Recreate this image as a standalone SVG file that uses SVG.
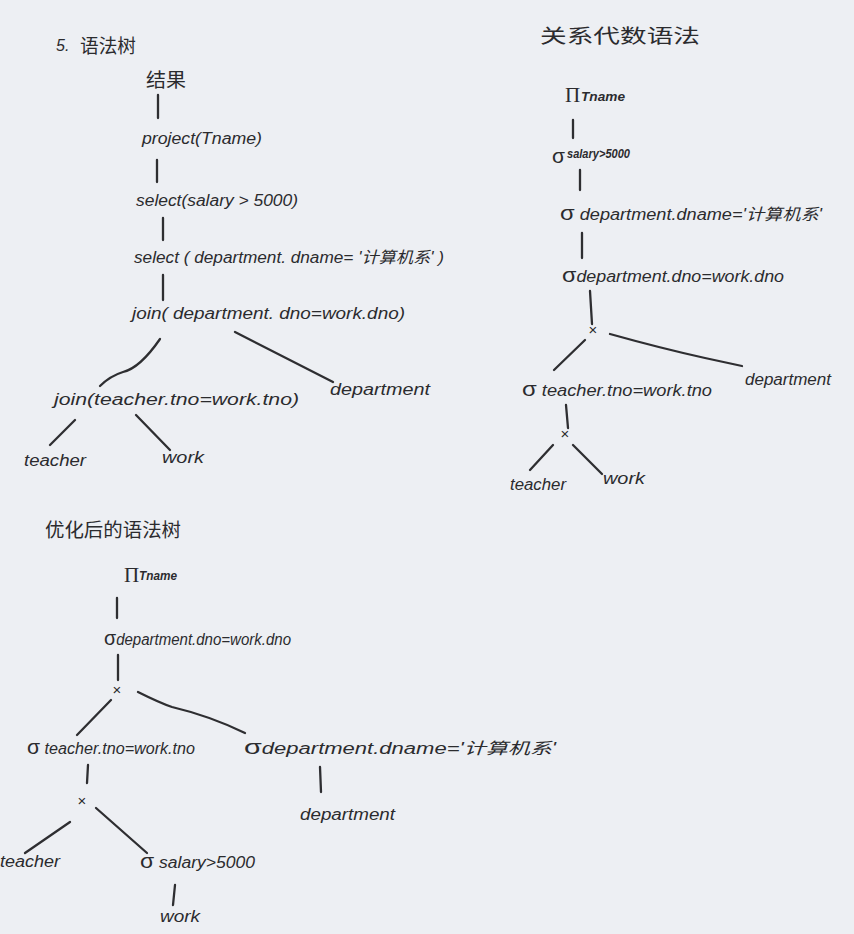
<svg xmlns="http://www.w3.org/2000/svg" width="854" height="934" viewBox="0 0 854 934">
<style>
.t{font-family:"Liberation Sans","Noto Sans CJK SC",sans-serif;font-style:italic;font-size:16px;fill:#2b2b2e}
.h{font-family:"Noto Sans CJK SC",sans-serif;font-size:19px;fill:#2b2b2e}
.s{font-family:"Liberation Sans","Noto Sans CJK SC",sans-serif;font-style:italic;font-weight:bold;font-size:12px;fill:#2b2b2e}
.g{font-family:"Liberation Serif",serif;font-size:21px;fill:#2b2b2e}
.sg{font-family:"Liberation Sans",sans-serif;font-size:21px;fill:#2b2b2e}
.x{font-family:"Liberation Sans",sans-serif;font-size:15px;fill:#2b2b2e;text-anchor:middle}
.c path,.c line{stroke:#2e2e31;stroke-width:2.3;fill:none;stroke-linecap:round}
</style>
<rect width="854" height="934" fill="#edeff3"/>
<g class="c" id="connectors">
<line x1="158" y1="95" x2="158" y2="118"/>
<line x1="157" y1="160" x2="157" y2="182"/>
<line x1="163" y1="218" x2="163" y2="240"/>
<line x1="163" y1="275" x2="163" y2="300"/>
<path d="M160 339 Q140 368 123 372 Q110 376 100 386"/>
<path d="M235 332 Q290 360 333 382"/>
<line x1="75" y1="420" x2="50" y2="445"/>
<line x1="136" y1="415" x2="170" y2="450"/>
<line x1="573" y1="120" x2="573" y2="138"/>
<line x1="580" y1="170" x2="580" y2="190"/>
<line x1="582" y1="233" x2="582" y2="258"/>
<line x1="590" y1="291" x2="592" y2="324"/>
<line x1="585" y1="340" x2="554" y2="370"/>
<path d="M610 334 Q660 348 705 358 L742 366"/>
<line x1="566" y1="405" x2="568" y2="428"/>
<line x1="553" y1="445" x2="530" y2="470"/>
<line x1="573" y1="445" x2="602" y2="474"/>
<line x1="117" y1="598" x2="117" y2="618"/>
<line x1="118" y1="655" x2="118" y2="680"/>
<line x1="111" y1="700" x2="77" y2="735"/>
<path d="M138 692 Q160 703 172 707 Q210 716 245 733"/>
<line x1="88" y1="765" x2="87" y2="783"/>
<line x1="320" y1="767" x2="321" y2="792"/>
<line x1="70" y1="822" x2="25" y2="853"/>
<line x1="96" y1="808" x2="147" y2="853"/>
<line x1="175" y1="885" x2="173" y2="905"/>
</g>
<g id="tree1">
<text class="t" x="56" y="51" font-size="17">5.</text>
<text class="h" x="80" y="53" textLength="56" lengthAdjust="spacingAndGlyphs">语法树</text>
<g id="n-result"><text class="h" x="146" y="87" textLength="40" lengthAdjust="spacingAndGlyphs">结果</text></g>
<g id="n-project"><text class="t" x="142" y="144" textLength="120" lengthAdjust="spacingAndGlyphs">project(Tname)</text></g>
<g id="n-select-salary"><text class="t" x="136" y="206" textLength="162" lengthAdjust="spacingAndGlyphs">select(salary &gt; 5000)</text></g>
<g id="n-select-dname"><text class="t" x="134" y="263" textLength="310" lengthAdjust="spacingAndGlyphs">select ( department. dname= '计算机系' )</text></g>
<g id="n-join-dno"><text class="t" x="132" y="319" textLength="273" lengthAdjust="spacingAndGlyphs">join( department. dno=work.dno)</text></g>
<g id="n-join-tno"><text class="t" x="54" y="405" textLength="245" lengthAdjust="spacingAndGlyphs">join(teacher.tno=work.tno)</text></g>
<g id="n-department1"><text class="t" x="330" y="395" textLength="100" lengthAdjust="spacingAndGlyphs">department</text></g>
<g id="n-teacher1"><text class="t" x="24" y="466" textLength="62" lengthAdjust="spacingAndGlyphs">teacher</text></g>
<g id="n-work1"><text class="t" x="162" y="463" textLength="42" lengthAdjust="spacingAndGlyphs">work</text></g>
</g>
<g id="tree2">
<text class="h" x="540" y="43" font-size="22" textLength="160" lengthAdjust="spacingAndGlyphs">关系代数语法</text>
<g id="r-pi"><text class="g" x="565" y="102">Π</text><text class="s" x="581" y="101" textLength="44" lengthAdjust="spacingAndGlyphs">Tname</text></g>
<g id="r-sel-salary"><text class="sg" x="552" y="163">σ</text><text class="s" x="567" y="158" textLength="63" lengthAdjust="spacingAndGlyphs">salary&gt;5000</text></g>
<g id="r-sel-dname"><text class="t" x="560" y="220" textLength="262" lengthAdjust="spacingAndGlyphs"><tspan font-size="21" font-style="normal">σ</tspan> department.dname='计算机系'</text></g>
<g id="r-sel-dno"><text class="t" x="562" y="282" textLength="222" lengthAdjust="spacingAndGlyphs"><tspan font-size="21" font-style="normal">σ</tspan>department.dno=work.dno</text></g>
<g id="r-x1"><text class="x" x="593" y="335">×</text></g>
<g id="r-sel-tno"><text class="t" x="522" y="396" textLength="190" lengthAdjust="spacingAndGlyphs"><tspan font-size="21" font-style="normal">σ</tspan> teacher.tno=work.tno</text></g>
<g id="r-department"><text class="t" x="745" y="385" textLength="86" lengthAdjust="spacingAndGlyphs">department</text></g>
<g id="r-x2"><text class="x" x="565" y="439">×</text></g>
<g id="r-teacher"><text class="t" x="510" y="490" textLength="56" lengthAdjust="spacingAndGlyphs">teacher</text></g>
<g id="r-work"><text class="t" x="603" y="484" textLength="42" lengthAdjust="spacingAndGlyphs">work</text></g>
</g>
<g id="tree3">
<text class="h" x="45" y="537" textLength="136" lengthAdjust="spacingAndGlyphs">优化后的语法树</text>
<g id="o-pi"><text class="g" x="124" y="582">Π</text><text class="s" x="139" y="580" textLength="38" lengthAdjust="spacingAndGlyphs">Tname</text></g>
<g id="o-sel-dno"><text class="t" x="104" y="645" textLength="187" lengthAdjust="spacingAndGlyphs"><tspan font-size="21" font-style="normal">σ</tspan>department.dno=work.dno</text></g>
<g id="o-x1"><text class="x" x="117" y="695">×</text></g>
<g id="o-sel-tno"><text class="t" x="27" y="754" textLength="168" lengthAdjust="spacingAndGlyphs"><tspan font-size="21" font-style="normal">σ</tspan> teacher.tno=work.tno</text></g>
<g id="o-sel-dname"><text class="t" x="244" y="754" textLength="312" lengthAdjust="spacingAndGlyphs"><tspan font-size="21" font-style="normal">σ</tspan>department.dname='计算机系'</text></g>
<g id="o-x2"><text class="x" x="82" y="806">×</text></g>
<g id="o-department"><text class="t" x="300" y="820" textLength="95" lengthAdjust="spacingAndGlyphs">department</text></g>
<g id="o-teacher"><text class="t" x="0" y="867" textLength="60" lengthAdjust="spacingAndGlyphs">teacher</text></g>
<g id="o-sel-salary"><text class="t" x="140" y="868" textLength="115" lengthAdjust="spacingAndGlyphs"><tspan font-size="21" font-style="normal">σ</tspan> salary&gt;5000</text></g>
<g id="o-work"><text class="t" x="160" y="922" textLength="40" lengthAdjust="spacingAndGlyphs">work</text></g>
</g>
</svg>
